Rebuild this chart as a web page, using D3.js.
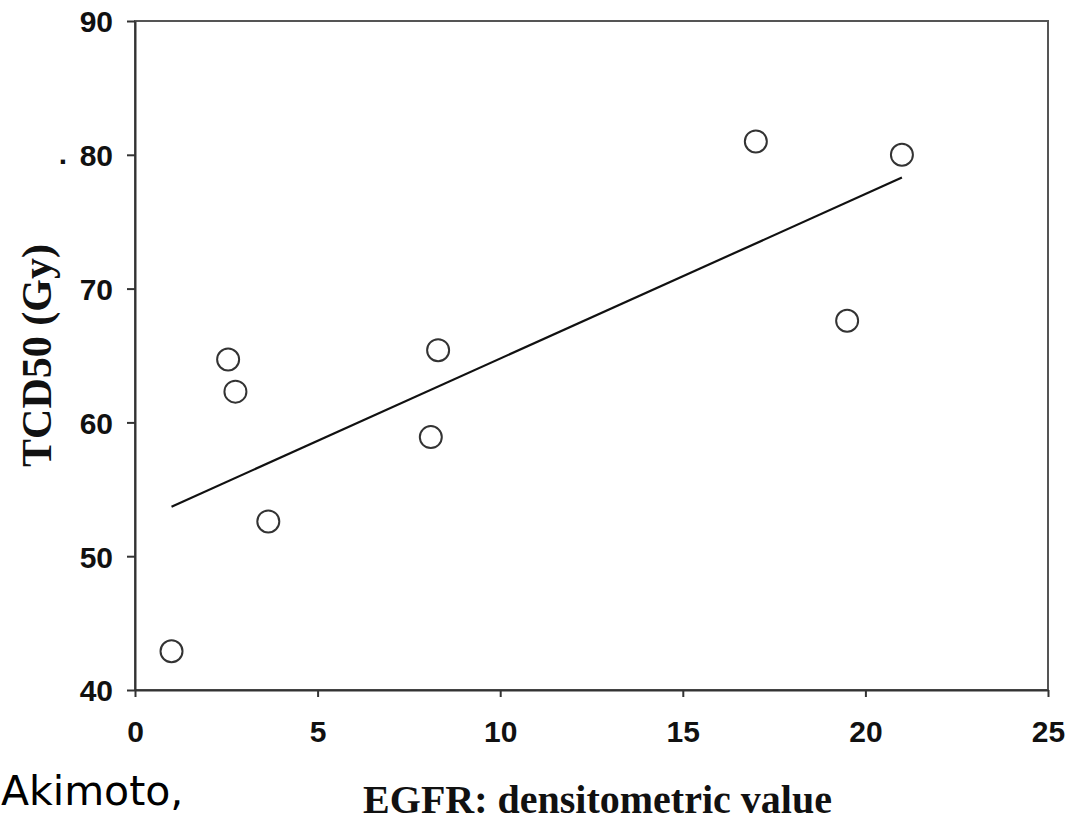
<!DOCTYPE html>
<html>
<head>
<meta charset="utf-8">
<script src="https://cdn.jsdelivr.net/npm/d3@7"></script>
<style>
  body { margin: 0; background: #fff; }
  svg { display: block; }
</style>
</head>
<body>
<svg id="chart" width="1070" height="822"></svg>
<script>
// measured points: EGFR densitometric value vs TCD50
var egfrValues = [1.0, 2.55, 2.75, 3.65, 8.1, 8.3, 17.0, 19.5, 21.0];
var tcd50Values = [42.9, 64.7, 62.3, 52.6, 58.9, 65.4, 81.0, 67.6, 80.0];
// regression line end points, as drawn
var fitX = [1.0, 21.0];
var fitY = [53.7, 78.3];
var xTicks = [0, 5, 10, 15, 20, 25];
var yTicks = [40, 50, 60, 70, 80, 90];

var svg = d3.select("#chart");

var x = d3.scaleLinear().domain([0, 25]).range([135, 1048]);
var y = d3.scaleLinear().domain([40, 90]).range([690, 21]);

var tickFont = "'Liberation Sans', Arial, sans-serif";
var titleFont = "'Liberation Serif', 'Times New Roman', serif";

// frame
svg.append("rect")
  .attr("x", x(0))
  .attr("y", y(90))
  .attr("width", x(25) - x(0))
  .attr("height", y(40) - y(90))
  .attr("fill", "none")
  .attr("stroke", "#555")
  .attr("stroke-width", 2);

var xAxis = svg.append("g")
  .attr("transform", "translate(0," + y(40) + ")")
  .call(d3.axisBottom(x).tickValues(xTicks).tickSize(7).tickSizeOuter(0).tickPadding(24));

var yAxis = svg.append("g")
  .attr("transform", "translate(" + x(0) + ",0)")
  .call(d3.axisLeft(y).tickValues(yTicks).tickSize(8).tickSizeOuter(0).tickPadding(14));

[xAxis, yAxis].forEach(function(g) {
  g.select(".domain").attr("stroke", "#333").attr("stroke-width", 2);
  g.selectAll(".tick line").attr("stroke", "#333").attr("stroke-width", 2);
  g.selectAll(".tick text")
    .attr("fill", "#111")
    .style("font-family", tickFont)
    .style("font-weight", "bold")
    .style("font-size", "30px");
});
yAxis.selectAll(".tick text").attr("dy", "0.36em");

// stray dot next to the 80 label
svg.append("text")
  .attr("x", 63)
  .attr("y", y(80) + 9)
  .attr("text-anchor", "middle")
  .style("font-family", tickFont)
  .style("font-weight", "bold")
  .style("font-size", "30px")
  .attr("fill", "#111")
  .text(".");

// regression line
svg.append("line")
  .attr("x1", x(fitX[0]))
  .attr("y1", y(fitY[0]))
  .attr("x2", x(fitX[1]))
  .attr("y2", y(fitY[1]))
  .attr("stroke", "#111")
  .attr("stroke-width", 2.2);

// points
svg.append("g")
  .selectAll("circle")
  .data(egfrValues.map(function(v, i) { return { x: v, y: tcd50Values[i] }; }))
  .enter()
  .append("circle")
  .attr("cx", function(d) { return x(d.x); })
  .attr("cy", function(d) { return y(d.y); })
  .attr("r", 11)
  .attr("fill", "#fff")
  .attr("stroke", "#333")
  .attr("stroke-width", 2);

// axis titles
svg.append("text")
  .attr("x", (x(0) + x(25)) / 2 + 6)
  .attr("y", 813)
  .attr("text-anchor", "middle")
  .style("font-family", titleFont)
  .style("font-weight", "bold")
  .style("font-size", "40px")
  .attr("fill", "#111")
  .text("EGFR: densitometric value");

svg.append("text")
  .attr("transform", "translate(51," + ((y(40) + y(90)) / 2) + ") rotate(-90)")
  .attr("text-anchor", "middle")
  .style("font-family", titleFont)
  .style("font-weight", "bold")
  .style("font-size", "42px")
  .attr("fill", "#111")
  .text("TCD50 (Gy)");

// handwritten citation note
svg.append("text")
  .attr("x", 1)
  .attr("y", 805)
  .style("font-family", "'Comic Sans MS', 'DejaVu Sans', sans-serif")
  .style("font-size", "41px")
  .attr("fill", "#000")
  .text("Akimoto,");
</script>
</body>
</html>
